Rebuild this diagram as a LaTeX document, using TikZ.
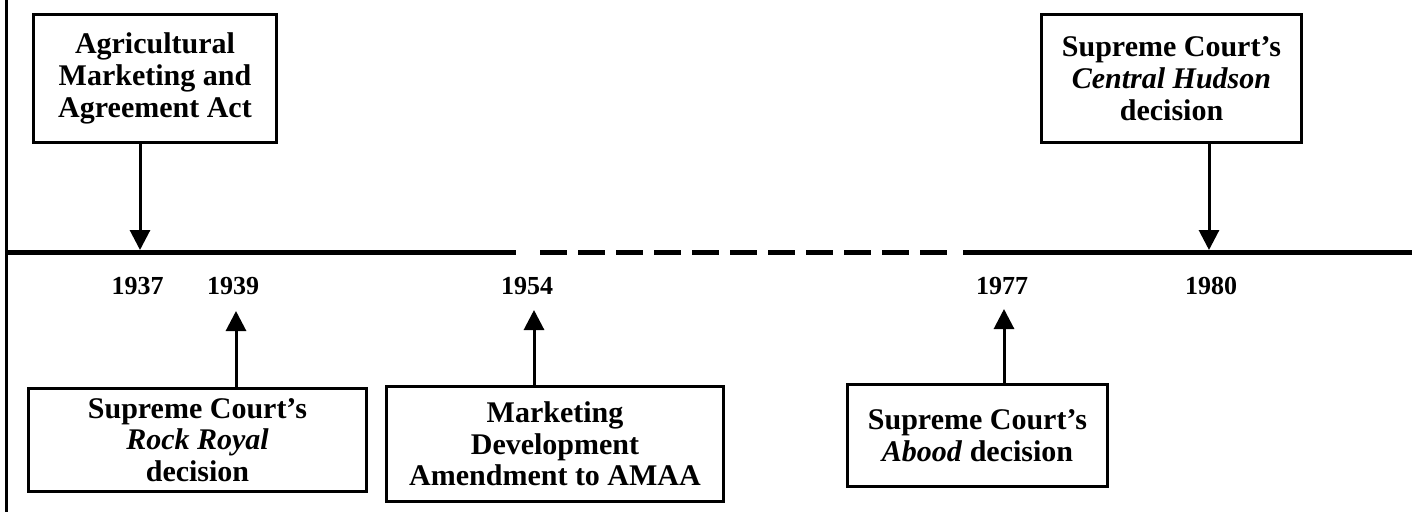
\documentclass[tikz,border=0pt]{standalone}
\usepackage{fontspec}
\setmainfont{Liberation Serif}
\usetikzlibrary{arrows.meta}
\begin{document}
\begin{tikzpicture}[x=1pt,y=-1pt,
  evbox/.style={draw,line width=3.2pt,align=center,inner sep=0pt,
    font=\fontsize{30}{31.7}\selectfont\bfseries},
  yearlbl/.style={font=\fontsize{26}{28}\selectfont\bfseries,inner sep=0pt},
  arr/.style={line width=3pt,-{Triangle[width=20pt,length=20pt]}},
  tline/.style={line width=5.5pt}]
\useasboundingbox (0,0) rectangle (1419,512);
% left frame line
\coordinate (fa) at (6.5,0);
\coordinate (fb) at (6.5,512);
\draw[line width=3pt] (fa) -- (fb);
% timeline
\coordinate (tl0) at (8,252.5);
\coordinate (tl1) at (516,252.5);
\coordinate (tl2) at (540,252.5);
\coordinate (tl3) at (947,252.5);
\coordinate (tl4) at (963,252.5);
\coordinate (tl5) at (1412,252.5);
\draw[tline] (tl0) -- (tl1);
\draw[tline,dash pattern=on 27pt off 11pt] (tl2) -- (tl3);
\draw[tline] (tl4) -- (tl5);
% boxes
\node[evbox,minimum width=243pt,minimum height=128pt] (amaa) at (155,78.5)
  {Agricultural\\Marketing and\\Agreement Act};
\node[evbox,minimum width=260pt,minimum height=128pt] (ch) at (1171.5,78.5)
  {Supreme Court’s\\\textit{Central Hudson}\\decision};
\node[evbox,minimum width=338pt,minimum height=103pt] (rr) at (197.5,440)
  {Supreme Court’s\\\textit{Rock Royal}\\decision};
\node[evbox,minimum width=337pt,minimum height=115pt] (md) at (555,444)
  {Marketing\\Development\\Amendment to AMAA};
\node[evbox,minimum width=260pt,minimum height=102pt] (ab) at (977.5,435.5)
  {Supreme Court’s\\\textit{Abood} decision};
% years
\node[yearlbl] (y37) at (137.5,286) {1937};
\node[yearlbl] (y39) at (233,286) {1939};
\node[yearlbl] (y54) at (527,286) {1954};
\node[yearlbl] (y77) at (1002,286) {1977};
\node[yearlbl] (y80) at (1211,286) {1980};
% arrow end points
\coordinate (d37) at (140,250);
\coordinate (d80) at (1209,250);
\coordinate (u39) at (236,311);
\coordinate (u54) at (534,310);
\coordinate (u77) at (1004,309);
\draw[arr] (amaa.south -| d37) -- (d37);
\draw[arr] (ch.south -| d80) -- (d80);
\draw[arr] (rr.north -| u39) -- (u39);
\draw[arr] (md.north -| u54) -- (u54);
\draw[arr] (ab.north -| u77) -- (u77);
\end{tikzpicture}
\end{document}
